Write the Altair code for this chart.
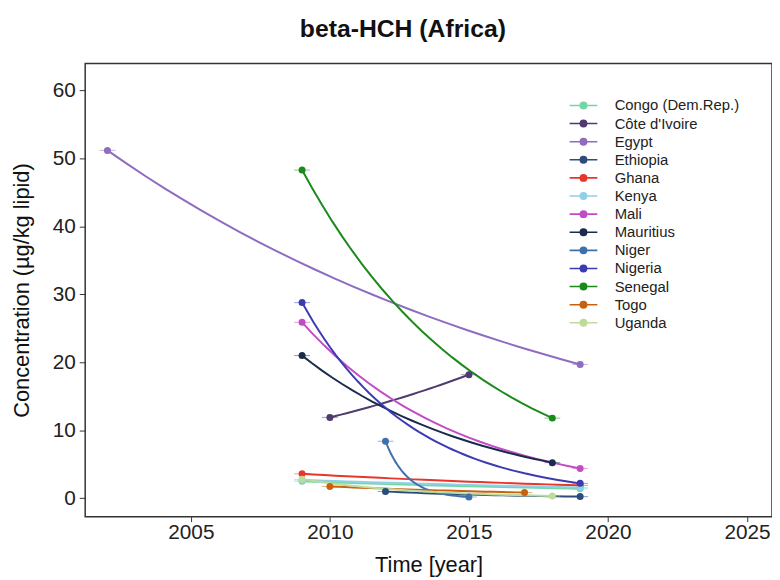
import altair as alt
import pandas as pd

countries = ["Congo (Dem.Rep.)", "Côte d'Ivoire", "Egypt", "Ethiopia", "Ghana", "Kenya",
             "Mali", "Mauritius", "Niger", "Nigeria", "Senegal", "Togo", "Uganda"]
colors = ["#72d6a6", "#4f3b6f", "#8f6cc0", "#2d4c7c", "#e8362b", "#90cfe6",
          "#c24cc4", "#1b2b4b", "#4070ab", "#3b3bb2", "#1b8a1b", "#c8610f", "#bedb9c"]

# two survey rounds per country: (year1, value1, year2, value2)
year_first = [2009, 2010, 2002, 2012, 2009, 2009, 2009, 2009, 2012, 2009, 2009, 2010, 2009]
value_first = [2.5, 11.9, 51.2, 1.0, 3.6, 2.7, 25.9, 21.0, 8.4, 28.8, 48.3, 1.75, 2.8]
year_second = [2019, 2015, 2019, 2019, 2019, 2019, 2019, 2018, 2015, 2019, 2018, 2017, 2018]
value_second = [1.4, 18.2, 19.7, 0.25, 1.9, 1.6, 4.4, 5.25, 0.2, 2.2, 11.8, 0.85, 0.35]

x_ticks = [2005, 2010, 2015, 2020, 2025]
y_ticks = [0, 10, 20, 30, 40, 50, 60]

rows = []
for i, c in enumerate(countries):
    rows.append({"country": c, "year": year_first[i], "value": value_first[i]})
    rows.append({"country": c, "year": year_second[i], "value": value_second[i]})
df = pd.DataFrame(rows)

font = "Liberation Sans"
color_scale = alt.Scale(domain=countries, range=colors)
x_enc = alt.X("year:Q", scale=alt.Scale(domain=[2001.2, 2025.9], nice=False, zero=False),
              axis=alt.Axis(values=x_ticks, format="d", title="Time [year]",
                            titleFontSize=22))
y_enc = alt.Y("value:Q", scale=alt.Scale(domain=[-2.7, 64], nice=False, zero=False),
              axis=alt.Axis(values=y_ticks, title="Concentration (µg/kg lipid)",
                            titleFontSize=22))

legend = alt.Legend(
    title=None, orient="none", legendX=496, legendY=35,
    symbolType=("M-3.5,0L3.5,0"
                "M-0.8,0A0.8,0.8 0 1,1 0.8,0A0.8,0.8 0 1,1 -0.8,0"
                "M-0.5,0A0.5,0.5 0 1,1 0.5,0A0.5,0.5 0 1,1 -0.5,0"
                "M-0.2,0A0.2,0.2 0 1,1 0.2,0A0.2,0.2 0 1,1 -0.2,0"),
    symbolSize=64, symbolStrokeWidth=1.6, labelOffset=24, rowPadding=2.3,
    labelFont=font, labelFontSize=15, labelColor="#222",
    symbolOpacity=1,
)

color_enc = alt.Color("country:N", scale=color_scale, sort=countries, legend=legend)

base = alt.Chart(df)

lines = base.transform_regression(
    "year", "value", method="exp", groupby=["country"]
).mark_line(strokeWidth=2).encode(
    x=x_enc, y=y_enc, color=color_enc, detail="country:N",
)

whiskers = base.mark_point(shape="M-1,0L1,0", size=256, strokeWidth=1, opacity=0.5,
                           filled=False).encode(
    x=x_enc, y=y_enc, color=color_enc,
)

points = base.mark_point(filled=True, size=50, opacity=1).encode(
    x=x_enc, y=y_enc, color=color_enc,
)

chart = alt.layer(lines, whiskers, points).properties(
    width=694, height=458,
    padding={"left": 2, "top": 6, "right": 0, "bottom": 0},
    title=alt.TitleParams("beta-HCH (Africa)", font=font, fontSize=25, fontWeight="bold",
                          color="#111", offset=22, anchor="middle", dx=-26),
).configure_view(
    stroke="#333", strokeWidth=1.5
).configure_axis(
    grid=False, domain=False, ticks=True, tickColor="#333", tickWidth=1,
    labelFont=font, labelFontSize=21, labelColor="#222",
    titleFont=font, titleFontWeight="normal", titleColor="#111",
).configure_axisX(
    tickSize=5, labelPadding=0, titlePadding=12
).configure_axisY(
    tickSize=6, labelPadding=4, titlePadding=19
)

chart.save("out.html", embed_options={"renderer": "svg", "actions": False})
